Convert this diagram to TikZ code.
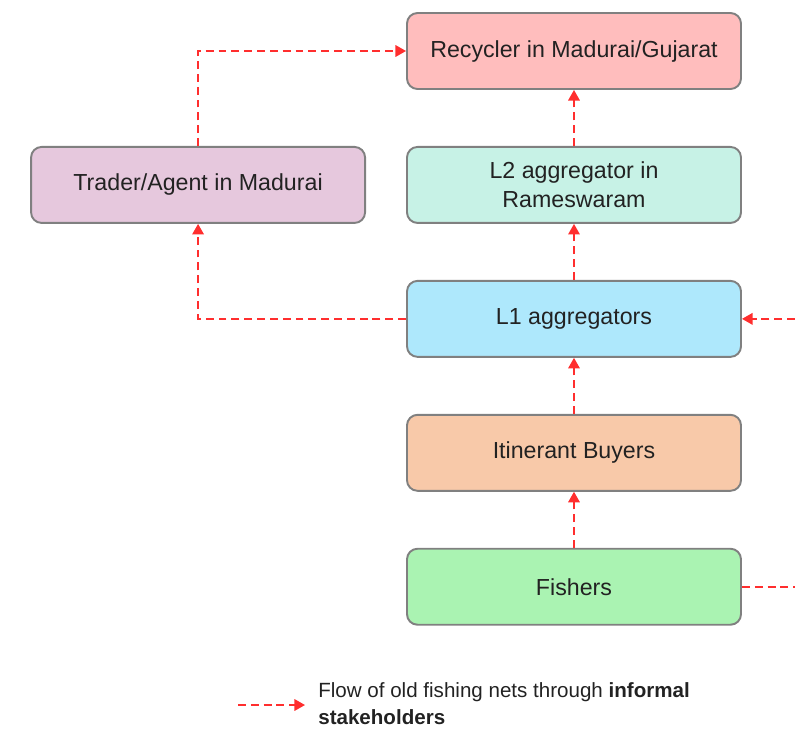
\documentclass[tikz,border=0pt]{standalone}
\usepackage{fontspec}
\setmainfont{Liberation Sans}
\usepackage{tikz}
\usetikzlibrary{arrows.meta,positioning,calc}
\definecolor{netink}{HTML}{222222}
\definecolor{netedge}{HTML}{808080}
\definecolor{netflow}{HTML}{FF2E2E}
\definecolor{netrecycbg}{HTML}{FFBDBD}
\definecolor{netltwobg}{HTML}{C7F2E6}
\definecolor{nettraderbg}{HTML}{E6C8DD}
\definecolor{netlonebg}{HTML}{AEE8FC}
\definecolor{netbuyerbg}{HTML}{F8C9A9}
\definecolor{netfisherbg}{HTML}{AAF3B2}
\tikzset{
  box/.style    = {rectangle, rounded corners=6pt, draw=netedge, line width=1.1pt, align=center,
                   minimum width=6.68cm, minimum height=1.52cm, inner sep=4pt, text=netink,
                   font=\fontsize{13.2}{16.4}\selectfont},
  recyc/.style  = {box, fill=netrecycbg},
  ltwo/.style   = {box, fill=netltwobg},
  trade/.style  = {box, fill=nettraderbg},
  lone/.style   = {box, fill=netlonebg},
  buyer/.style  = {box, fill=netbuyerbg},
  fisher/.style = {box, fill=netfisherbg},
  flow/.style   = {-{Triangle[length=6pt,width=6.5pt]}, line width=1.1pt, draw=netflow,
                   dash pattern=on 4.5pt off 2.8pt},
  flowplain/.style = {line width=1.1pt, draw=netflow, dash pattern=on 4.5pt off 2.8pt},
  legend/.style = {align=left, inner sep=0pt, text=netink, font=\fontsize{11.7}{15.4}\selectfont},
}
\begin{document}
\begin{tikzpicture}[node distance=11.2mm]
\useasboundingbox (0,0) rectangle (15.9,-14.6);
\node[recyc] (recycler) at (11.48,-1.02) {Recycler in Madurai/Gujarat};
\node[ltwo, below=of recycler] (ltwoagg) {L2 aggregator in\\Rameswaram};
\node[trade, left=8.0mm of ltwoagg] (trader) {Trader/Agent in Madurai};
\node[lone, below=of ltwoagg] (loneagg) {L1 aggregators};
\node[buyer, below=of loneagg] (buyers) {Itinerant Buyers};
\node[fisher, below=of buyers] (fishers) {Fishers};
% flows running off the right edge
\coordinate (inright) at (15.9,0 |- loneagg.east);
\coordinate (outright) at (15.9,0 |- fishers.east);
\draw[flow] (fishers) -- (buyers);
\draw[flow] (buyers) -- (loneagg);
\draw[flow] (loneagg) -- (ltwoagg);
\draw[flow] (ltwoagg) -- (recycler);
\draw[flow] (loneagg.west) -| (trader.south);
\draw[flow] (trader.north) |- (recycler.west);
\draw[flow] (inright) -- (loneagg.east);
\draw[flowplain] (fishers.east) -- (outright);
% legend
\coordinate (legfrom) at (4.76,-14.1);
\coordinate (legto) at (6.1,-14.1);
\node[legend, anchor=west] (legtext) at (6.36,-14.07) {Flow of old fishing nets through \textbf{informal}\\\textbf{stakeholders}};
\draw[flow] (legfrom) -- (legto);
\end{tikzpicture}
\end{document}
